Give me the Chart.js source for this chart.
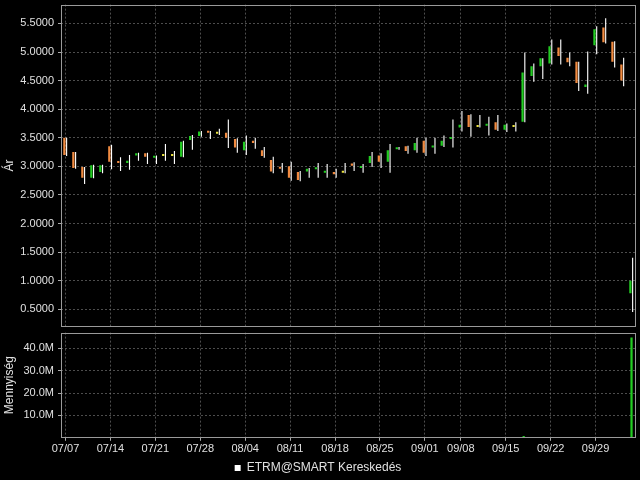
<!DOCTYPE html>
<html>
<head>
<meta charset="utf-8">
<script src="https://cdn.jsdelivr.net/npm/chart.js@4"></script>
<style>
  html, body { margin: 0; padding: 0; background: #000; overflow: hidden; }
  #top { position: absolute; left: 0; top: -6px; width: 640px; height: 343px; }
  #bottom { position: absolute; left: 0; top: 322px; width: 640px; height: 162px; }
</style>
</head>
<body>
<div id="top"><canvas id="price"></canvas></div>
<div id="bottom"><canvas id="volume"></canvas></div>
<script>
// trading days
const days = ['07/07', '07/08', '07/09', '07/10', '07/11',
  '07/14', '07/15', '07/16', '07/17', '07/18',
  '07/21', '07/22', '07/23', '07/24', '07/25',
  '07/28', '07/29', '07/30', '07/31', '08/01',
  '08/04', '08/05', '08/06', '08/07', '08/08',
  '08/11', '08/12', '08/13', '08/14', '08/15',
  '08/18', '08/19', '08/20', '08/21', '08/22',
  '08/25', '08/26', '08/27', '08/28', '08/29',
  '09/02', '09/03', '09/04', '09/05',
  '09/08', '09/09', '09/10', '09/11', '09/12',
  '09/15', '09/16', '09/17', '09/18', '09/19',
  '09/22', '09/23', '09/24', '09/25', '09/26',
  '09/29', '09/30', '10/01', '10/02', '10/03']

const opens = [3.50, 3.25, 2.99, 2.80, 2.90, 3.35, 3.09, 3.06, 3.19, 3.23,
  3.15, 3.18, 3.18, 3.17, 3.46, 3.53, 3.62, 3.57, 3.59, 3.48,
  3.28, 3.45, 3.28, 3.11, 2.98, 3.00, 2.90, 2.91, 2.95, 2.89,
  2.90, 2.89, 3.05, 2.97, 3.06, 3.19, 3.08, 3.30, 3.35, 3.28,
  3.45, 3.33, 3.36, 3.48, 3.68, 3.90, 3.69, 3.71, 3.77, 3.64,
  3.69, 3.78, 4.58, 4.75, 4.80, 5.08, 4.90, 4.83, 4.39, 5.12,
  5.43, 5.18, 4.78, 0.78]
const highs = [3.50, 3.25, 2.99, 3.03, 3.03, 3.38, 3.16, 3.20, 3.24, 3.24,
  3.19, 3.39, 3.27, 3.45, 3.55, 3.62, 3.62, 3.66, 3.82, 3.49,
  3.54, 3.50, 3.34, 3.17, 3.06, 3.08, 2.92, 2.97, 3.06, 3.04,
  2.96, 3.06, 3.07, 3.04, 3.25, 3.23, 3.39, 3.34, 3.36, 3.50,
  3.50, 3.50, 3.54, 3.82, 3.97, 3.91, 3.90, 3.87, 3.90, 3.75,
  3.77, 4.99, 4.80, 4.89, 5.22, 5.22, 4.99, 4.83, 5.01, 5.45,
  5.59, 5.19, 4.90, 1.40]
const lows = [3.18, 2.96, 2.69, 2.79, 2.88, 2.95, 2.92, 2.94, 3.10, 3.04,
  3.04, 3.10, 3.04, 3.16, 3.29, 3.52, 3.48, 3.55, 3.32, 3.24,
  3.20, 3.31, 3.15, 2.88, 2.89, 2.75, 2.74, 2.80, 2.80, 2.80,
  2.80, 2.88, 2.92, 2.89, 2.99, 2.97, 2.89, 3.29, 3.22, 3.24,
  3.18, 3.22, 3.34, 3.33, 3.61, 3.52, 3.68, 3.54, 3.62, 3.60,
  3.61, 3.77, 4.48, 4.53, 4.78, 4.78, 4.75, 4.32, 4.27, 4.96,
  5.15, 4.73, 4.40, 0.45]
const closes = [3.20, 2.97, 2.80, 3.02, 3.02, 3.08, 3.06, 3.10, 3.23, 3.17,
  3.18, 3.18, 3.18, 3.43, 3.53, 3.61, 3.59, 3.57, 3.50, 3.33,
  3.43, 3.41, 3.18, 2.91, 2.96, 2.80, 2.76, 2.96, 2.98, 2.92,
  2.86, 2.89, 3.01, 2.99, 3.18, 3.08, 3.28, 3.33, 3.27, 3.41,
  3.24, 3.36, 3.45, 3.51, 3.73, 3.69, 3.69, 3.74, 3.64, 3.73,
  3.69, 4.64, 4.75, 4.89, 5.10, 4.93, 4.82, 4.46, 4.43, 5.40,
  5.17, 4.83, 4.50, 1.00]
// volume, millions
const volumes = [0, 0, 0, 0, 0, 0, 0, 0, 0, 0,
  0, 0, 0, 0, 0, 0, 0, 0, 0, 0,
  0, 0, 0, 0, 0, 0, 0, 0, 0, 0,
  0, 0, 0, 0, 0, 0, 0.3, 0, 0, 0,
  0, 0, 0, 0, 0.2, 0, 0, 0, 0, 0,
  0, 0.8, 0, 0, 0, 0, 0, 0, 0, 0.2,
  0, 0, 0, 44.8]

const weekTicks = ['07/07', '07/14', '07/21', '07/28', '08/04', '08/11', '08/18',
  '08/25', '09/01', '09/08', '09/15', '09/22', '09/29']
const priceTicks = [0.5, 1.0, 1.5, 2.0, 2.5, 3.0, 3.5, 4.0, 4.5, 5.0, 5.5]
const volumeTicks = [10, 20, 30, 40]
const seriesName = 'ETRM@SMART Kereskedés'

const UP = '#22cc22'
const DOWN = '#f08a40'
const FLAT = '#e8e040'
const GRID = 'rgba(140,140,140,0.55)'
const TEXT = '#e0e0e0'
const FONT = { family: "'Liberation Sans', Arial, sans-serif", size: 11 }

// first trading day of each week gets the week label
const tickPos = weekTicks.map(w => days.findIndex(d => d >= w))

const candleColors = opens.map((o, i) => closes[i] > o ? UP : (closes[i] < o ? DOWN : FLAT))

function xAxis(showLabels) {
  return {
    offset: true,
    afterBuildTicks: s => { s.ticks = s.ticks.filter(t => tickPos.includes(t.value)) },
    ticks: {
      display: showLabels,
      autoSkip: false,
      maxRotation: 0,
      color: TEXT,
      font: FONT,
      padding: 2,
      callback: v => weekTicks[tickPos.indexOf(v)]
    },
    grid: { color: GRID, offset: false, drawTicks: showLabels, tickLength: 3, tickColor: '#aaa', tickBorderDash: [] },
    border: { display: false, dash: [2, 2] }
  }
}

const frame = {
  id: 'frame',
  afterDraw(chart) {
    const a = chart.chartArea
    const ctx = chart.ctx
    ctx.save()
    ctx.strokeStyle = '#9a9a9a'
    ctx.lineWidth = 1
    ctx.strokeRect(Math.round(a.left) + 0.5, Math.round(a.top) + 0.5, Math.round(a.right - a.left) - 1, Math.round(a.bottom - a.top) - 1)
    ctx.restore()
  }
}

Chart.defaults.animation = false

const priceChart = new Chart(document.querySelector('#price'), {
  type: 'bar',
  data: {
    labels: days,
    datasets: [{
      label: 'body',
      data: opens.map((o, i) => [o, closes[i]]),
      backgroundColor: candleColors,
      barPercentage: 1,
      categoryPercentage: 0.5,
      minBarLength: 2
    }, {
      label: 'wick',
      data: lows.map((l, i) => [l, highs[i]]),
      backgroundColor: '#ffffff',
      barPercentage: 0.5,
      categoryPercentage: 0.5
    }]
  },
  options: {
    responsive: true,
    maintainAspectRatio: false,
    layout: { padding: { top: 5, right: 4, bottom: 2, left: 0 } },
    plugins: { legend: { display: false }, tooltip: { enabled: false } },
    scales: {
      x: xAxis(false),
      y: {
        min: 0.2,
        max: 5.83,
        afterFit: s => { s.width = 61 },
        afterBuildTicks: s => { s.ticks = priceTicks.map(v => ({ value: v })) },
        ticks: { color: TEXT, font: FONT, padding: 4, callback: v => v.toFixed(4) },
        grid: { color: GRID, tickLength: 3, tickColor: '#aaa', tickBorderDash: [] },
        border: { display: false, dash: [2, 2] },
        title: { display: true, text: 'Ár', color: TEXT, font: { family: FONT.family, size: 12 }, padding: 2 }
      }
    }
  },
  plugins: [frame]
})

const volumeChart = new Chart(document.querySelector('#volume'), {
  type: 'bar',
  data: {
    labels: days,
    datasets: [{
      label: seriesName,
      data: volumes,
      backgroundColor: candleColors,
      barPercentage: 0.25,
      categoryPercentage: 1
    }]
  },
  options: {
    responsive: true,
    maintainAspectRatio: false,
    layout: { padding: { top: 3, right: 4, bottom: 0, left: 0 } },
    plugins: {
      tooltip: { enabled: false },
      legend: {
        position: 'bottom',
        labels: {
          color: TEXT,
          font: { family: FONT.family, size: 12 },
          boxWidth: 6,
          boxHeight: 6,
          padding: 4,
          generateLabels: () => [{ text: seriesName, fillStyle: '#ffffff', strokeStyle: '#ffffff', lineWidth: 0, fontColor: TEXT }]
        }
      }
    },
    scales: {
      x: xAxis(true),
      y: {
        min: 0,
        max: 47,
        afterFit: s => { s.width = 61 },
        afterBuildTicks: s => { s.ticks = volumeTicks.map(v => ({ value: v })) },
        ticks: { color: TEXT, font: FONT, padding: 4, callback: v => v.toFixed(1) + 'M' },
        grid: { color: GRID, tickLength: 3, tickColor: '#aaa', tickBorderDash: [] },
        border: { display: false, dash: [2, 2] },
        title: { display: true, text: 'Mennyiség', color: TEXT, font: { family: FONT.family, size: 12 }, padding: 2 }
      }
    }
  },
  plugins: [frame]
})
</script>
</body>
</html>
